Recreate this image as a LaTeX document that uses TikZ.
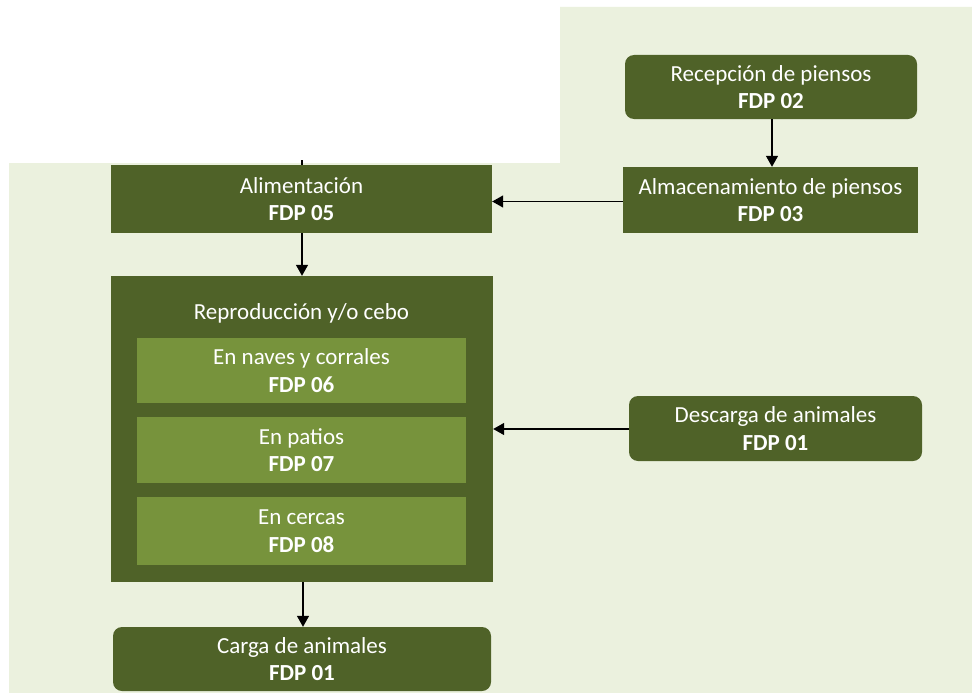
\documentclass[tikz,border=0pt]{standalone}
\usepackage{fontspec}
\setmainfont{Carlito}
\usetikzlibrary{arrows.meta}
\definecolor{bgg}{HTML}{EBF1DE}
\definecolor{darkol}{HTML}{4F6228}
\definecolor{lightol}{HTML}{77933C}
\tikzset{
  box/.style={fill=darkol, draw=none, text=white, align=center, inner sep=0pt,
    font=\fontsize{23}{27.5}\selectfont},
  rbox/.style={box, rounded corners=9pt},
  inbox/.style={box, fill=lightol},
  conn/.style={line width=1.4pt, draw=black, -{Triangle[width=12pt,length=11pt]}},
}
\begin{document}
\begin{tikzpicture}[x=1pt,y=-1pt]
\useasboundingbox (0,0) rectangle (972,693);
\fill[white] (0,0) rectangle (972,693);
\fill[bgg] (9,163) -- (560,163) -- (560,7) -- (972,7) -- (972,693) -- (9,693) -- cycle;

\node[box, minimum width=381pt, minimum height=68pt] (alim) at (301.5,199) {Alimentación\\\textbf{FDP 05}};
\node[rbox, minimum width=292pt, minimum height=64pt] (recep) at (771,87) {Recepción de piensos\\\textbf{FDP 02}};
\node[box, minimum width=295pt, minimum height=66pt] (almac) at (770.5,200) {Almacenamiento de piensos\\\textbf{FDP 03}};

\node[box, minimum width=382pt, minimum height=306pt] (repro) at (302,429) {};
\node[box, fill=none] (reprot) at (301.5,313) {Reproducción y/o cebo};
\node[inbox, minimum width=329pt, minimum height=65pt] (naves) at (301.5,370.5) {En naves y corrales\\\textbf{FDP 06}};
\node[inbox, minimum width=329pt, minimum height=66pt] (patios) at (301.5,450) {En patios\\\textbf{FDP 07}};
\node[inbox, minimum width=329pt, minimum height=68pt] (cercas) at (301.5,531) {En cercas\\\textbf{FDP 08}};

\node[rbox, minimum width=293pt, minimum height=65pt] (desc) at (775.5,428.5) {Descarga de animales\\\textbf{FDP 01}};
\node[rbox, minimum width=378pt, minimum height=64pt] (carga) at (302,659) {Carga de animales\\\textbf{FDP 01}};

\coordinate (stub) at (302,160);
\draw[line width=1.4pt] (stub) -- (stub |- alim.north);

\draw[conn] (recep.south -| 772,0) -- (almac.north -| 772,0);
\draw[conn] (almac.west |- 0,201.5) -- (alim.east |- 0,201.5);
\draw[conn] (alim.south -| 302,0) -- (repro.north -| 302,0);
\draw[conn] (desc.west |- 0,429) -- (repro.east |- 0,429);
\draw[conn] (repro.south -| 303,0) -- (carga.north -| 303,0);
\end{tikzpicture}
\end{document}
